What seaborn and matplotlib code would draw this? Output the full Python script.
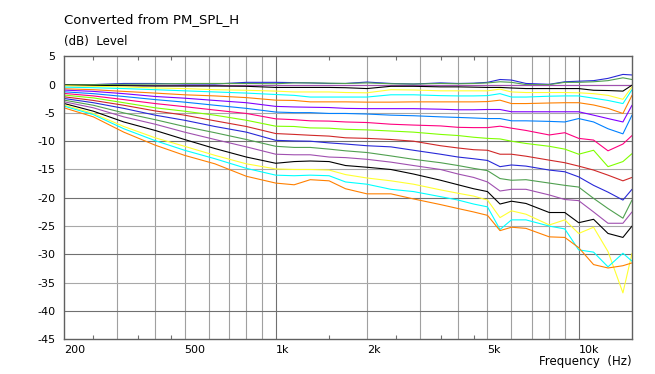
import numpy as np
import pandas as pd
import matplotlib
matplotlib.use("Agg")
import matplotlib.pyplot as plt
import seaborn as sns

# ---------------- data ----------------
freqs = [200, 250, 315, 400, 500, 630, 800, 1000, 1150, 1300, 1500, 1700, 2000, 2400,
         2850, 3500, 4000, 4500, 5000, 5500, 6000, 6700, 8000, 9000, 10000, 11200,
         12500, 14000, 15000]

c00_blue = [0, 0, 0.2, 0.2, 0.1, 0.1, 0.4, 0.4, 0.35, 0.3, 0.2, 0.2, 0.45, 0.2, 0.1, 0.3,
            0.2, 0.25, 0.4, 0.9, 0.8, 0.2, 0.05, 0.5, 0.6, 0.7, 1.1, 1.8, 1.7]
c01_green = [0, 0, 0.05, 0.1, 0.2, 0.2, 0.2, 0.15, 0.3, 0.3, 0.25, 0.2, 0.3, 0.15, 0.1, 0.2,
             0.15, 0.2, 0.3, 0.5, 0.4, 0.0, 0.0, 0.4, 0.4, 0.5, 0.7, 1.2, 0.9]
c02_purple = [0] * 29
c03_black = [-0.1, -0.15, -0.2, -0.25, -0.25, -0.25, -0.3, -0.5, -0.5, -0.5, -0.5, -0.55,
             -0.7, -0.3, -0.3, -0.4, -0.4, -0.45, -0.5, -0.5, -0.6, -0.7, -0.7, -0.7, -0.7,
             -1.0, -1.05, -1.15, -0.1]
c04_yellow = [-0.2, -0.3, -0.4, -0.6, -0.7, -0.9, -1.0, -1.15, -1.3, -1.3, -1.3, -1.4,
              -1.45, -0.9, -0.95, -1.1, -1.1, -1.1, -1.1, -0.8, -1.3, -1.4, -1.4, -1.4,
              -1.45, -1.6, -1.9, -2.6, -0.4]
c05_cyan = [-0.45, -0.55, -0.7, -0.9, -1.1, -1.3, -1.5, -1.75, -1.9, -2.2, -2.2, -2.2,
            -2.2, -1.8, -1.8, -1.95, -2.0, -2.0, -1.95, -1.6, -2.2, -2.2, -2.05, -2.0, -2.0,
            -2.4, -2.8, -3.35, -0.9]
c06_orange = [-0.74, -0.9, -1.2, -1.5, -1.8, -2.0, -2.3, -2.75, -2.8, -3.05, -3.05, -3.05,
              -3.1, -3.1, -3.05, -3.05, -3.05, -3.05, -3.0, -2.75, -3.35, -3.35, -3.25,
              -3.2, -3.2, -3.6, -4.2, -5.1, -1.9]
c07_violet = [-0.97, -1.2, -1.6, -2.1, -2.4, -2.8, -3.2, -3.85, -3.95, -4.0, -4.05, -4.2,
              -4.25, -4.25, -4.25, -4.35, -4.45, -4.45, -4.4, -4.4, -4.8, -4.8, -4.8, -4.8,
              -4.8, -5.4, -6.0, -6.6, -3.65]
c08_azure = [-1.27, -1.6, -2.1, -2.65, -3.1, -3.65, -4.2, -4.85, -4.95, -4.95, -5.1, -5.1,
             -5.2, -5.4, -5.5, -5.7, -5.8, -5.9, -6.0, -6.0, -6.4, -6.4, -6.5, -6.6, -6.0,
             -6.6, -7.8, -8.7, -5.4]
c09_pink = [-1.56, -2.0, -2.65, -3.35, -3.9, -4.5, -5.1, -6.05, -6.2, -6.4, -6.45, -6.6,
            -6.7, -7.0, -7.15, -7.3, -7.55, -7.6, -7.6, -7.35, -7.7, -8.1, -8.9, -8.5, -9.5,
            -9.8, -11.7, -10.5, -9.0]
c10_lime = [-1.85, -2.35, -3.2, -4.1, -4.7, -5.4, -6.3, -7.35, -7.4, -7.65, -7.7, -7.9,
            -8.0, -8.2, -8.4, -8.8, -9.0, -9.3, -9.5, -9.6, -10.0, -10.4, -10.9, -11.4,
            -12.3, -11.6, -14.5, -13.6, -12.2]
c11_red = [-2.15, -2.8, -3.65, -4.65, -5.4, -6.4, -7.4, -8.65, -8.8, -8.95, -9.1, -9.4,
           -9.5, -9.7, -10.0, -10.8, -11.2, -11.5, -11.6, -12.3, -12.3, -12.65, -13.35,
           -13.8, -14.4, -15.1, -16.0, -17.0, -16.4]
c12_blue = [-2.45, -3.2, -4.2, -5.4, -6.3, -7.4, -8.4, -9.85, -9.95, -10.0, -10.3, -10.5,
            -10.8, -11.0, -11.6, -12.3, -12.8, -13.1, -13.4, -14.5, -14.2, -14.4, -15.1,
            -15.4, -16.3, -17.8, -19.0, -20.4, -18.5]
c13_green = [-2.74, -3.65, -5.0, -6.2, -7.4, -8.5, -9.7, -10.9, -11.1, -11.1, -11.4, -11.7,
             -12.0, -12.6, -13.2, -13.8, -14.3, -14.8, -15.2, -16.6, -16.9, -16.8, -17.4,
             -17.8, -18.1, -20.1, -21.9, -23.6, -20.4]
c14_purple = [-3.03, -4.1, -5.7, -7.0, -8.4, -9.7, -11.0, -12.3, -12.4, -12.4, -12.8, -12.9,
              -13.2, -13.7, -14.3, -15.0, -15.8, -16.4, -17.2, -18.8, -18.5, -18.5, -19.5,
              -20.3, -20.5, -22.5, -24.5, -24.5, -22.5]
c15_black = [-3.33, -4.7, -6.6, -8.1, -9.7, -11.3, -12.8, -13.9, -13.6, -13.5, -13.6, -14.3,
             -14.6, -15.0, -15.8, -16.9, -17.7, -18.4, -18.9, -21.1, -20.6, -21.0, -22.6,
             -22.6, -24.4, -23.8, -26.3, -27.0, -25.0]
c16_yellow = [-3.6, -5.1, -7.4, -9.4, -10.9, -12.5, -14.0, -14.9, -15.0, -15.0, -15.1, -15.9,
              -16.5, -17.0, -17.6, -18.6, -19.2, -19.7, -20.4, -23.5, -22.3, -22.9, -24.8,
              -23.9, -26.3, -25.2, -29.5, -36.8, -29.8]
c17_cyan = [-3.8, -5.3, -7.8, -9.9, -11.6, -13.1, -14.8, -16.0, -16.1, -16.0, -16.1, -17.2,
            -17.6, -18.5, -18.9, -19.8, -20.4, -21.1, -21.6, -25.6, -23.9, -23.9, -25.0,
            -25.5, -29.2, -29.6, -32.2, -29.8, -31.2]
c18_orange = [-4.1, -5.7, -8.4, -10.7, -12.5, -14.0, -16.2, -17.4, -17.7, -16.8, -17.0, -18.4,
              -19.3, -19.3, -20.2, -21.2, -21.9, -22.5, -23.1, -25.8, -25.2, -25.4, -26.9,
              -27.0, -28.8, -31.8, -32.4, -32.0, -31.5]

series = [c00_blue, c01_green, c02_purple, c03_black, c04_yellow, c05_cyan, c06_orange,
          c07_violet, c08_azure, c09_pink, c10_lime, c11_red, c12_blue, c13_green,
          c14_purple, c15_black, c16_yellow, c17_cyan, c18_orange]
names = ["c%02d" % i for i in range(len(series))]
cycle = ["#2828d8", "#50a050", "#a050b0", "#000000", "#ffff30", "#00ffff", "#ff8000",
         "#8000ff", "#0080ff", "#ff0080", "#80ff00", "#d02828"]
colors = [cycle[i % 12] for i in range(len(series))]

title_text = "Converted from PM_SPL_H"
ylabel_text = "(dB)  Level"
xlabel_text = "Frequency  (Hz)"
xtick_vals = [200, 500, 1000, 2000, 5000, 10000]
xtick_labels = ["200", "500", "1k", "2k", "5k", "10k"]
ytick_vals = [5, 0, -5, -10, -15, -20, -25, -30, -35, -40, -45]

rows = []
for n, s in zip(names, series):
    for f, v in zip(freqs, s):
        rows.append((n, f, v))
df = pd.DataFrame(rows, columns=["curve", "freq", "level"])

# ---------------- plot ----------------
sns.set_theme(style="white")
plt.rcParams["font.family"] = ["DejaVu Sans"]

W, H = 655, 374
fig = plt.figure(figsize=(W / 100, H / 100), dpi=100)
L, R, T, B = 64, 632, 56.3, 339.3
ax = fig.add_axes([L / W, 1 - B / H, (R - L) / W, (B - T) / H])

ax.set_xscale("log")
ax.set_xlim(200, 15000)
ax.set_ylim(-45, 5)

# grid
minor_grid = [300, 400, 500, 600, 700, 800, 900, 2000, 3000, 4000, 5000, 6000, 7000, 8000, 9000]
major_grid = [1000, 10000]
for g in minor_grid:
    ax.axvline(g, color="#a0a0a0", lw=0.8, zorder=0)
for g in major_grid:
    ax.axvline(g, color="#707070", lw=0.8, zorder=0)
for yv in range(-40, 5, 5):
    ax.axhline(yv, color="#707070" if yv % 10 == 0 else "#a8a8a8", lw=0.8, zorder=0)

sns.lineplot(data=df, x="freq", y="level", hue="curve", hue_order=names,
             palette=colors, legend=False, ax=ax, lw=0.8, estimator=None, sort=False)

ax.set_xlabel("")
ax.set_ylabel("")
ax.set_xticks(xtick_vals)
ax.set_xticklabels(xtick_labels, ha="left")
ax.set_xticks([250, 350, 450, 1500, 2500, 3500, 4500], minor=True)
ax.set_xticklabels([], minor=True)
ax.tick_params(axis="x", which="major", length=0, pad=4, labelsize=8, colors="black")
ax.tick_params(axis="x", which="minor", length=3, width=0.8, direction="in",
               top=True, bottom=True, color="#707070")
ax.set_yticks(ytick_vals)
ax.set_yticklabels([str(v) for v in ytick_vals])
ax.tick_params(axis="y", which="major", length=0, pad=6, labelsize=8, colors="black")

for sp in ax.spines.values():
    sp.set_color("#606060")
    sp.set_linewidth(1.0)
    sp.set_visible(True)

fig.text(L / W, 1 - 20 / H, title_text, ha="left", va="center", fontsize=9.5, color="black")
fig.text(L / W, 1 - 42 / H, ylabel_text, ha="left", va="center", fontsize=8.5, color="black")
fig.text(R / W, 1 - 362 / H, xlabel_text, ha="right", va="center", fontsize=8.5, color="black")

fig.savefig("out.png", dpi=100, facecolor="white")
